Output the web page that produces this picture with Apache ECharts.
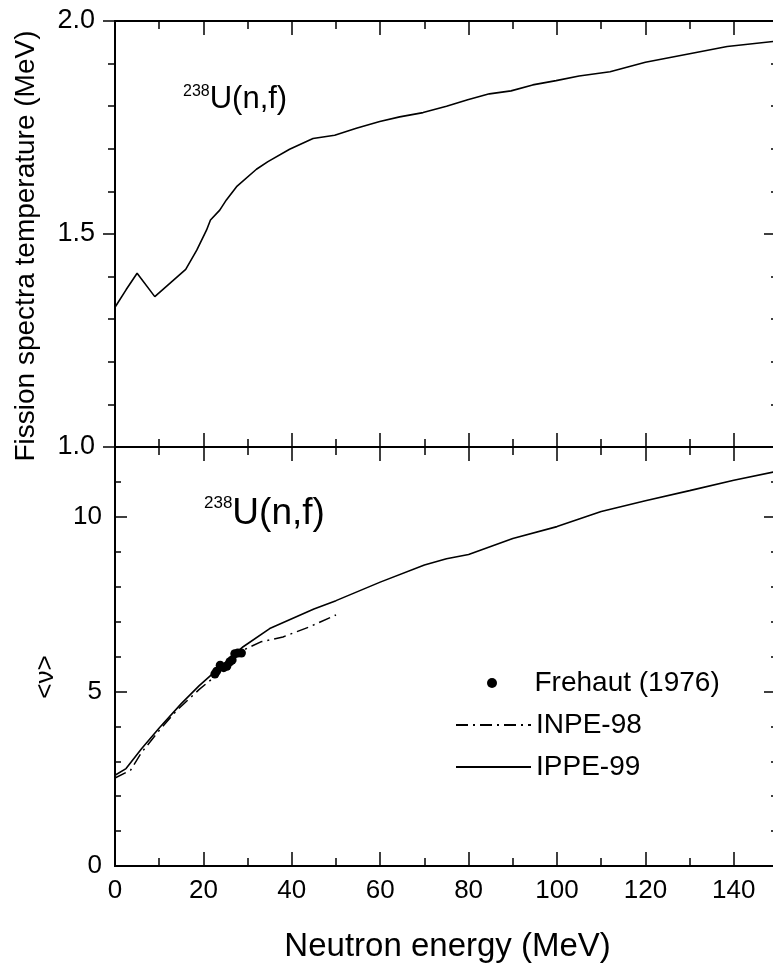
<!DOCTYPE html>
<html><head><meta charset="utf-8">
<script src="https://cdn.jsdelivr.net/npm/echarts@6/dist/echarts.min.js"></script>
<style>html,body{margin:0;padding:0;background:#fff}#c{width:773px;height:969px}</style>
</head><body><div id="c"></div>
<script>
// ---- data ----
// Top panel: fission spectra temperature (MeV) vs neutron energy (MeV)
const tempE = [0, 2.5, 5, 9, 16, 18.5, 20.7, 21.6, 23.7, 25.2, 27.5, 32, 34.6, 39.5, 44.8, 49.7, 54.6, 59.9, 64.4, 69.7, 75, 79.8, 84.7, 89.6, 94.5, 99.8, 105, 112, 120, 130, 138.5, 150];
const tempT = [1.328, 1.369, 1.408, 1.353, 1.417, 1.462, 1.509, 1.533, 1.556, 1.580, 1.611, 1.652, 1.670, 1.699, 1.724, 1.732, 1.748, 1.764, 1.775, 1.785, 1.800, 1.815, 1.829, 1.836, 1.850, 1.860, 1.871, 1.881, 1.903, 1.923, 1.940, 1.953];
// Bottom panel: <nu>
const ippeE = [0, 2.5, 6, 10, 15, 19, 23, 29, 35, 45, 50, 60, 70, 75, 80, 90, 100, 110, 120, 130, 140, 150];
const ippeV = [2.60, 2.79, 3.36, 3.95, 4.65, 5.16, 5.61, 6.28, 6.80, 7.36, 7.60, 8.13, 8.62, 8.80, 8.92, 9.38, 9.72, 10.15, 10.46, 10.75, 11.05, 11.31];
const inpeE = [0, 3.5, 6, 10, 14, 19, 23, 26, 29, 33, 38, 44, 50];
const inpeV = [2.52, 2.74, 3.25, 3.88, 4.46, 5.05, 5.47, 5.85, 6.18, 6.42, 6.56, 6.85, 7.19];
const freE = [22.6, 23.0, 23.8, 24.6, 25.3, 26.0, 26.5, 27.1, 27.8, 28.6];
const freV = [5.50, 5.58, 5.75, 5.68, 5.72, 5.85, 5.90, 6.08, 6.10, 6.10];
const seriesNames = ['Frehaut (1976)', 'INPE-98', 'IPPE-99'];
const topLabel = ['238', 'U(n,f)'];
const xTitle = 'Neutron energy (MeV)';
const yTitleTop = 'Fission spectra temperature (MeV)';
const yTitleBottom = '<ν>';

const zip = (a, b) => a.map((v, i) => [v, b[i]]);
const FONT = "'Liberation Sans', Arial, sans-serif";
const BLACK = '#000';
const line = { show: true, onZero: false, lineStyle: { color: BLACK, width: 2 } };
const tickStyle = { color: BLACK, width: 1.5 };

function xAx(grid, pos, showLabel, extra) {
  return Object.assign({
    type: 'value', gridIndex: grid, position: pos, min: 0, max: 160, interval: 20,
    axisLine: line,
    axisTick: { show: true, inside: true, length: 14, lineStyle: tickStyle },
    minorTick: { show: true, splitNumber: 2, length: 8, lineStyle: tickStyle },
    axisLabel: { show: showLabel, color: BLACK, fontFamily: FONT, fontSize: 26, margin: 12, showMaxLabel: false },
    splitLine: { show: false }, minorSplitLine: { show: false }
  }, extra || {});
}
function yAx(grid, pos, o) {
  return Object.assign({
    type: 'value', gridIndex: grid, position: pos,
    axisLine: line,
    splitLine: { show: false }, minorSplitLine: { show: false }
  }, o);
}
const RIGHT_OFF = -44.2;

const option = {
  backgroundColor: '#fff',
  animation: false,
  grid: [
    { left: 115, top: 21, width: 707.2, height: 426, outerBoundsMode: 'none', containLabel: false },
    { left: 115, top: 447, width: 707.2, height: 419, outerBoundsMode: 'none', containLabel: false }
  ],
  xAxis: [
    xAx(0, 'bottom', false),
    xAx(0, 'top', false),
    xAx(1, 'bottom', true, {
      name: xTitle, nameLocation: 'middle', nameGap: 64,
      nameTextStyle: { color: BLACK, fontFamily: FONT, fontSize: 33, padding: [0, 42, 0, 0] }
    }),
    xAx(1, 'top', false)
  ],
  yAxis: [
    yAx(0, 'left', {
      min: 1, max: 2, interval: 0.5,
      axisTick: { show: true, inside: false, length: 12, lineStyle: tickStyle },
      minorTick: { show: true, splitNumber: 5, length: 7, lineStyle: tickStyle },
      axisLabel: { color: BLACK, fontFamily: FONT, fontSize: 27, margin: 20, formatter: v => v.toFixed(1) },
      name: yTitleTop, nameLocation: 'middle', nameGap: 75,
      nameTextStyle: { color: BLACK, fontFamily: FONT, fontSize: 28, padding: [0, 24, 0, 0] }
    }),
    yAx(0, 'right', {
      min: 1, max: 2, interval: 0.5, offset: RIGHT_OFF,
      axisTick: { show: true, inside: true, length: 14, lineStyle: tickStyle },
      minorTick: { show: true, splitNumber: 5, length: 7, lineStyle: tickStyle },
      axisLabel: { show: false }
    }),
    yAx(1, 'left', {
      min: 0, max: 12, interval: 5,
      axisTick: { show: true, inside: true, length: 12, lineStyle: tickStyle },
      axisLabel: { color: BLACK, fontFamily: FONT, fontSize: 26, margin: 13, showMaxLabel: false },
      name: yTitleBottom, nameLocation: 'middle', nameGap: 56,
      nameTextStyle: { color: BLACK, fontFamily: FONT, fontSize: 26, padding: [0, 41, 0, 0] }
    }),
    yAx(1, 'left', {
      min: 0, max: 12, interval: 1,
      axisTick: { show: true, inside: true, length: 6, lineStyle: tickStyle },
      axisLabel: { show: false }
    }),
    yAx(1, 'right', {
      min: 0, max: 12, interval: 5, offset: RIGHT_OFF,
      axisTick: { show: true, inside: true, length: 14, lineStyle: tickStyle },
      axisLabel: { show: false }
    }),
    yAx(1, 'right', {
      min: 0, max: 12, interval: 1, offset: RIGHT_OFF,
      axisTick: { show: true, inside: true, length: 7, lineStyle: tickStyle },
      axisLabel: { show: false }
    })
  ],
  legend: seriesNames.map((n, i) => ({
    data: [n], orient: 'horizontal', left: [487, 455, 455][i], top: [669, 711, 753][i],
    itemWidth: 75, itemHeight: 10, itemGap: 0, padding: 0,
    selectedMode: false,
    itemStyle: i === 0 ? { color: BLACK } : { opacity: 0 },
    textStyle: { color: BLACK, fontFamily: FONT, fontSize: 28 }
  })),
  series: [
    {
      name: 'temperature', type: 'line', xAxisIndex: 0, yAxisIndex: 0,
      data: zip(tempE, tempT), symbol: 'none', lineStyle: { color: BLACK, width: 1.6 }
    },
    {
      name: seriesNames[0], type: 'scatter', xAxisIndex: 2, yAxisIndex: 2,
      data: zip(freE, freV), symbol: 'circle', symbolSize: 9, itemStyle: { color: BLACK, opacity: 1 }, z: 4
    },
    {
      name: seriesNames[1], type: 'line', xAxisIndex: 2, yAxisIndex: 2,
      data: zip(inpeE, inpeV), symbol: 'none', itemStyle: { color: BLACK },
      lineStyle: { color: BLACK, width: 1.5, type: [12, 5, 2, 5] }
    },
    {
      name: seriesNames[2], type: 'line', xAxisIndex: 2, yAxisIndex: 2,
      data: zip(ippeE, ippeV), symbol: 'none', itemStyle: { color: BLACK },
      lineStyle: { color: BLACK, width: 1.6 }, z: 3
    }
  ],
  graphic: [
    {
      type: 'text', left: 183, top: 84,
      style: {
        text: '{s|' + topLabel[0] + '}{m|' + topLabel[1] + '}',
        rich: {
          s: { fontFamily: FONT, fontSize: 16, fill: BLACK, verticalAlign: 'top' },
          m: { fontFamily: FONT, fontSize: 31, fill: BLACK }
        }
      }
    },
    {
      type: 'text', left: 204, top: 495,
      style: {
        text: '{s|' + topLabel[0] + '}{m|' + topLabel[1] + '}',
        rich: {
          s: { fontFamily: FONT, fontSize: 17, fill: BLACK, verticalAlign: 'top' },
          m: { fontFamily: FONT, fontSize: 37, fill: BLACK }
        }
      }
    }
  ]
};
const chart = echarts.init(document.getElementById('c'), null, { renderer: 'canvas' });
chart.setOption(option);
</script></body></html>
